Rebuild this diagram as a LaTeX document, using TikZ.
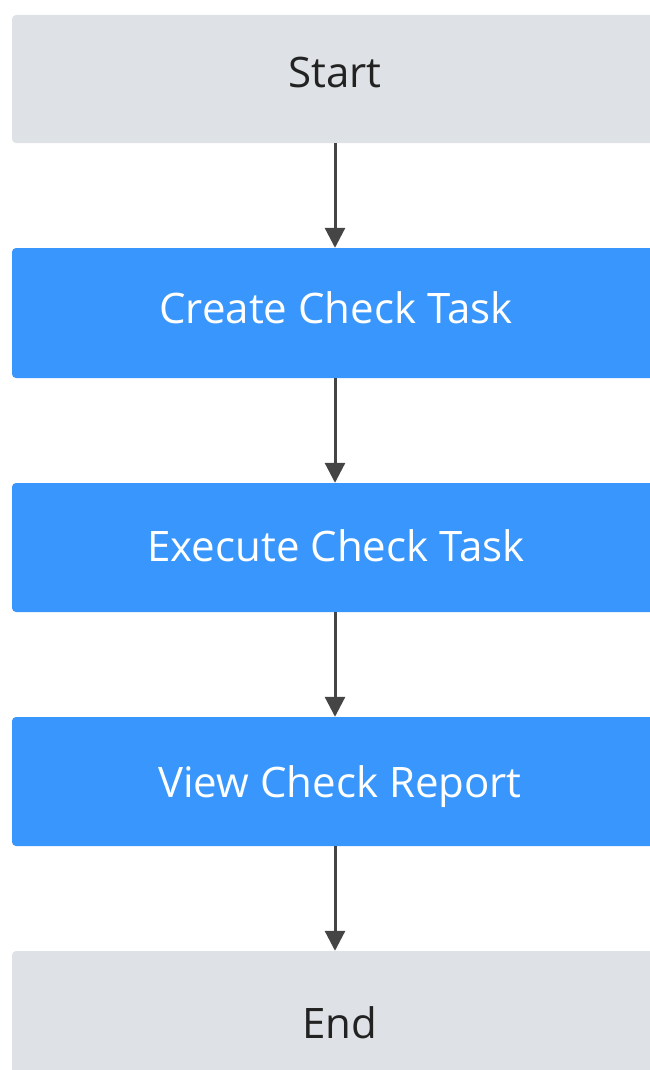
\documentclass[tikz,border=0pt]{standalone}
\usepackage{fontspec}
\setmainfont{Open Sans}
\usetikzlibrary{arrows.meta}
\definecolor{boxgray}{HTML}{DEE1E5}
\definecolor{boxblue}{HTML}{3896FD}
\definecolor{arrowgray}{HTML}{454545}
\definecolor{textdark}{HTML}{222222}
\begin{document}
\begin{tikzpicture}[x=1pt,y=-1pt,
  base/.style={rectangle, rounded corners=4pt, minimum width=646pt, inner sep=0pt},
  grey/.style={base, fill=boxgray},
  blue/.style={base, fill=boxblue},
  lbl/.style={font=\fontsize{42}{48}\selectfont, inner sep=0pt, anchor=base},
  conn/.style={draw=arrowgray, line width=3pt, -{Triangle[length=20pt,width=20pt]}}]
\useasboundingbox (0,0) rectangle (650,1070);
\clip (0,0) rectangle (650,1070);
\node[grey, minimum height=128pt] (start) at (335,79) {};
\node[lbl, text=textdark] (starttxt) at (335,88) {Start};
\node[blue, minimum height=130pt] (create) at (335,313) {};
\node[lbl, text=white] (createtxt) at (336,323) {Create Check Task};
\node[blue, minimum height=129pt] (exec) at (335,547.5) {};
\node[lbl, text=white] (exectxt) at (336,561) {Execute Check Task};
\node[blue, minimum height=129pt] (view) at (335,781.5) {};
\node[lbl, text=white] (viewtxt) at (340,797) {View Check Report};
\node[grey, minimum height=130pt] (end) at (335,1016) {};
\node[lbl, text=textdark] (endtxt) at (340,1038) {End};
\draw[conn] (start.south) -- (create.north);
\draw[conn] (create.south) -- (exec.north);
\draw[conn] (exec.south) -- (view.north);
\draw[conn] (view.south) -- (end.north);
\end{tikzpicture}
\end{document}
